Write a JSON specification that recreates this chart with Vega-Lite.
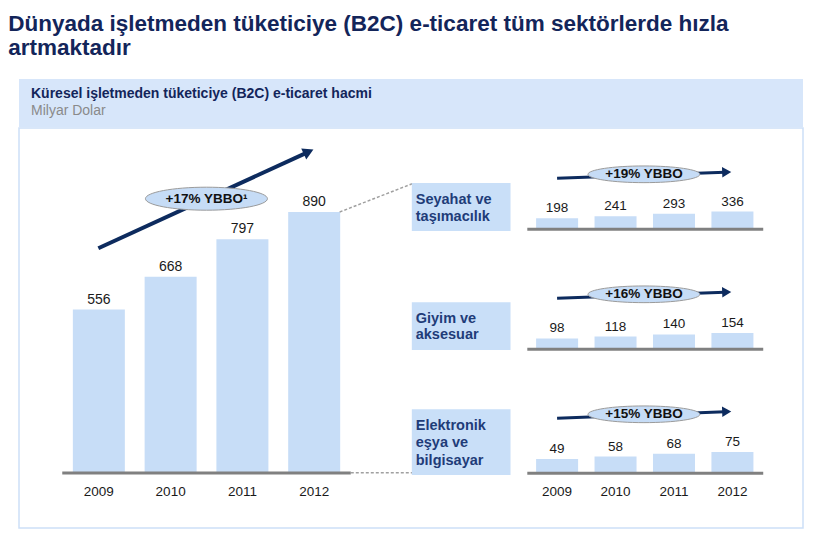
{
  "$schema": "https://vega.github.io/schema/vega-lite/v6.json",
  "padding": {"left": 8, "top": 12, "right": 21, "bottom": 5},
  "background": "white",
  "title": {
    "text": ["Dünyada işletmeden tüketiciye (B2C) e-ticaret tüm sektörlerde hızla", "artmaktadır"],
    "anchor": "start",
    "dx": -10,
    "font": "Liberation Sans",
    "fontSize": 22.5,
    "fontWeight": "bold",
    "color": "#13255a",
    "lineHeight": 24,
    "offset": 20
  },
  "datasets": {
    "main": [
      {"year": 2009, "value": 556},
      {"year": 2010, "value": 668},
      {"year": 2011, "value": 797},
      {"year": 2012, "value": 890}
    ],
    "seyahat": [
      {"year": 2009, "value": 198},
      {"year": 2010, "value": 241},
      {"year": 2011, "value": 293},
      {"year": 2012, "value": 336}
    ],
    "giyim": [
      {"year": 2009, "value": 98},
      {"year": 2010, "value": 118},
      {"year": 2011, "value": 140},
      {"year": 2012, "value": 154}
    ],
    "elektronik": [
      {"year": 2009, "value": 49},
      {"year": 2010, "value": 58},
      {"year": 2011, "value": 68},
      {"year": 2012, "value": 75}
    ]
  },
  "spacing": 0,
  "vconcat": [
    {
      "width": 784,
      "height": 48,
      "view": {"fill": "#d7e6fa", "stroke": null},
      "title": {
        "text": "Küresel işletmeden tüketiciye (B2C) e-ticaret hacmi",
        "subtitle": "Milyar Dolar",
        "anchor": "start",
        "dx": 12,
        "offset": -39,
        "font": "Liberation Sans",
        "fontSize": 14,
        "fontWeight": "bold",
        "color": "#13255a",
        "subtitleFont": "Liberation Sans",
        "subtitleFontSize": 14,
        "subtitleColor": "#8a8a8a",
        "subtitlePadding": 3
      },
      "data": {"values": [{}]},
      "mark": {"type": "text"},
      "encoding": {"text": {"value": ""}}
    },
    {
      "width": 784,
      "height": 400,
      "view": {"fill": "white", "stroke": "#cde0f8", "strokeWidth": 1.5},
      "resolve": {"scale": {"x": "independent", "y": "independent"}},
      "layer": [
        {
          "layer": [
            {
              "data": {"name": "main"},
              "mark": {"type": "bar", "width": 52, "orient": "vertical", "color": "#c7ddf7"},
              "encoding": {
                "x": {"field": "year", "type": "quantitative", "scale": {"domain": [2007.957, 2018.741], "nice": false, "zero": false}, "axis": null},
                "y": {"field": "value", "type": "quantitative", "scale": {"domain": [-191.7, 1177.5], "nice": false, "zero": false}, "axis": null}
              }
            },
            {
              "data": {"name": "main"},
              "mark": {"type": "text", "dy": -6, "baseline": "alphabetic", "fontSize": 14, "font": "Liberation Sans", "color": "#1a1a1a"},
              "encoding": {
                "x": {"field": "year", "type": "quantitative", "scale": {"domain": [2007.957, 2018.741], "nice": false, "zero": false}, "axis": null},
                "y": {"field": "value", "type": "quantitative", "scale": {"domain": [-191.7, 1177.5], "nice": false, "zero": false}, "axis": null},
                "text": {"field": "value", "type": "quantitative"}
              }
            },
            {
              "data": {"name": "main"},
              "mark": {"type": "text", "baseline": "middle", "fontSize": 13.5, "font": "Liberation Sans", "color": "#1a1a1a"},
              "encoding": {
                "x": {"field": "year", "type": "quantitative", "scale": {"domain": [2007.957, 2018.741], "nice": false, "zero": false}, "axis": null},
                "y": {"datum": -67.4, "type": "quantitative", "scale": {"domain": [-191.7, 1177.5], "nice": false, "zero": false}, "axis": null},
                "text": {"field": "year", "type": "quantitative", "format": "d"}
              }
            },
            {
              "data": {"values": [{}]},
              "mark": {"type": "rule", "color": "#808080", "strokeWidth": 3},
              "encoding": {
                "x": {"datum": 2008.49, "type": "quantitative", "scale": {"domain": [2007.957, 2018.741], "nice": false, "zero": false}, "axis": null},
                "x2": {"datum": 2012.51},
                "y": {"datum": -3.4, "type": "quantitative", "scale": {"domain": [-191.7, 1177.5], "nice": false, "zero": false}, "axis": null}
              }
            },
            {
              "data": {"values": [{}]},
              "mark": {"type": "rule", "color": "#a0a0a0", "strokeWidth": 1.5, "strokeDash": [3, 2]},
              "encoding": {
                "x": {"datum": 2012.51, "type": "quantitative", "scale": {"domain": [2007.957, 2018.741], "nice": false, "zero": false}, "axis": null},
                "x2": {"datum": 2013.418},
                "y": {"datum": -2.4, "type": "quantitative", "scale": {"domain": [-191.7, 1177.5], "nice": false, "zero": false}, "axis": null}
              }
            },
            {
              "data": {"values": [{}]},
              "mark": {"type": "rule", "color": "#a0a0a0", "strokeWidth": 1.5, "strokeDash": [3, 2]},
              "encoding": {
                "x": {"datum": 2012.355, "type": "quantitative", "scale": {"domain": [2007.957, 2018.741], "nice": false, "zero": false}, "axis": null},
                "x2": {"datum": 2013.39},
                "y": {"datum": 890, "type": "quantitative", "scale": {"domain": [-191.7, 1177.5], "nice": false, "zero": false}, "axis": null},
                "y2": {"datum": 989}
              }
            },
            {
              "data": {"values": [{}]},
              "mark": {"type": "rule", "color": "#0d2b5e", "strokeWidth": 4},
              "encoding": {
                "x": {"datum": 2008.993, "type": "quantitative", "scale": {"domain": [2007.957, 2018.741], "nice": false, "zero": false}, "axis": null},
                "x2": {"datum": 2011.922},
                "y": {"datum": 765.7, "type": "quantitative", "scale": {"domain": [-191.7, 1177.5], "nice": false, "zero": false}, "axis": null},
                "y2": {"datum": 1096}
              }
            },
            {
              "data": {"values": [{}]},
              "mark": {"type": "point", "shape": "triangle-up", "size": 150, "filled": true, "opacity": 1, "color": "#0d2b5e", "angle": 65.6},
              "encoding": {
                "x": {"datum": 2011.922, "type": "quantitative", "scale": {"domain": [2007.957, 2018.741], "nice": false, "zero": false}, "axis": null},
                "y": {"datum": 1096, "type": "quantitative", "scale": {"domain": [-191.7, 1177.5], "nice": false, "zero": false}, "axis": null}
              }
            },
            {
              "data": {"values": [{}]},
              "mark": {"type": "point", "shape": "M-1,0C-1,-0.1041,-0.5523,-0.1885,0,-0.1885C0.5523,-0.1885,1,-0.1041,1,0C1,0.1041,0.5523,0.1885,0,0.1885C-0.5523,0.1885,-1,0.1041,-1,0Z", "size": 14884, "filled": true, "opacity": 1, "fill": "#c6dcf6", "stroke": "#9b9b9b", "strokeWidth": 1},
              "encoding": {
                "x": {"datum": 2010.499, "type": "quantitative", "scale": {"domain": [2007.957, 2018.741], "nice": false, "zero": false}, "axis": null},
                "y": {"datum": 935.5, "type": "quantitative", "scale": {"domain": [-191.7, 1177.5], "nice": false, "zero": false}, "axis": null}
              }
            },
            {
              "data": {"values": [{}]},
              "mark": {"type": "text", "baseline": "middle", "fontSize": 13.5, "fontWeight": "bold", "font": "Liberation Sans", "color": "#111111"},
              "encoding": {
                "x": {"datum": 2010.499, "type": "quantitative", "scale": {"domain": [2007.957, 2018.741], "nice": false, "zero": false}, "axis": null},
                "y": {"datum": 935.5, "type": "quantitative", "scale": {"domain": [-191.7, 1177.5], "nice": false, "zero": false}, "axis": null},
                "text": {"value": "+17% YBBO¹"}
              }
            }
          ]
        },
        {
          "layer": [
            {
              "data": {"values": [{}]},
              "mark": {"type": "rect", "color": "#c9dff8"},
              "encoding": {
                "x": {"datum": 2006.514, "type": "quantitative", "scale": {"domain": [1999.878, 2013.122], "nice": false, "zero": false}, "axis": null},
                "x2": {"datum": 2008.203},
                "y": {"datum": 922.5, "type": "quantitative", "scale": {"domain": [-6150, 2050], "nice": false, "zero": false}, "axis": null},
                "y2": {"datum": -61.5}
              }
            },
            {
              "data": {"values": [{}]},
              "mark": {"type": "text", "align": "left", "baseline": "middle", "fontSize": 14.5, "fontWeight": "bold", "font": "Liberation Sans", "color": "#1f3c78", "lineHeight": 16.7},
              "encoding": {
                "x": {"datum": 2006.581, "type": "quantitative", "scale": {"domain": [1999.878, 2013.122], "nice": false, "zero": false}, "axis": null},
                "y": {"datum": 574, "type": "quantitative", "scale": {"domain": [-6150, 2050], "nice": false, "zero": false}, "axis": null},
                "text": {"value": ["Seyahat ve", "taşımacılık"]}
              }
            },
            {
              "data": {"name": "seyahat"},
              "mark": {"type": "bar", "width": 42, "orient": "vertical", "color": "#c7ddf7"},
              "encoding": {
                "x": {"field": "year", "type": "quantitative", "scale": {"domain": [1999.878, 2013.122], "nice": false, "zero": false}, "axis": null},
                "y": {"field": "value", "type": "quantitative", "scale": {"domain": [-6150, 2050], "nice": false, "zero": false}, "axis": null}
              }
            },
            {
              "data": {"name": "seyahat"},
              "mark": {"type": "text", "dy": -6, "baseline": "alphabetic", "fontSize": 13.5, "font": "Liberation Sans", "color": "#1a1a1a"},
              "encoding": {
                "x": {"field": "year", "type": "quantitative", "scale": {"domain": [1999.878, 2013.122], "nice": false, "zero": false}, "axis": null},
                "y": {"field": "value", "type": "quantitative", "scale": {"domain": [-6150, 2050], "nice": false, "zero": false}, "axis": null},
                "text": {"field": "value", "type": "quantitative"}
              }
            },
            {
              "data": {"values": [{}]},
              "mark": {"type": "rule", "color": "#808080", "strokeWidth": 3},
              "encoding": {
                "x": {"datum": 2008.49, "type": "quantitative", "scale": {"domain": [1999.878, 2013.122], "nice": false, "zero": false}, "axis": null},
                "x2": {"datum": 2012.527},
                "y": {"datum": -26.7, "type": "quantitative", "scale": {"domain": [-6150, 2050], "nice": false, "zero": false}, "axis": null}
              }
            },
            {
              "data": {"values": [{}]},
              "mark": {"type": "rule", "color": "#0d2b5e", "strokeWidth": 3},
              "encoding": {
                "x": {"datum": 2009, "type": "quantitative", "scale": {"domain": [1999.878, 2013.122], "nice": false, "zero": false}, "axis": null},
                "x2": {"datum": 2011.872},
                "y": {"datum": 1018.9, "type": "quantitative", "scale": {"domain": [-6150, 2050], "nice": false, "zero": false}, "axis": null},
                "y2": {"datum": 1141.9}
              }
            },
            {
              "data": {"values": [{}]},
              "mark": {"type": "point", "shape": "triangle-up", "size": 110, "filled": true, "opacity": 1, "color": "#0d2b5e", "angle": 88},
              "encoding": {
                "x": {"datum": 2011.902, "type": "quantitative", "scale": {"domain": [1999.878, 2013.122], "nice": false, "zero": false}, "axis": null},
                "y": {"datum": 1143.9, "type": "quantitative", "scale": {"domain": [-6150, 2050], "nice": false, "zero": false}, "axis": null}
              }
            },
            {
              "data": {"values": [{}]},
              "mark": {"type": "point", "shape": "M-1,0C-1,-0.0823,-0.5523,-0.149,0,-0.149C0.5523,-0.149,1,-0.0823,1,0C1,0.0823,0.5523,0.149,0,0.149C-0.5523,0.149,-1,0.0823,-1,0Z", "size": 12544, "filled": true, "opacity": 1, "fill": "#c6dcf6", "stroke": "#9b9b9b", "strokeWidth": 1},
              "encoding": {
                "x": {"datum": 2010.486, "type": "quantitative", "scale": {"domain": [1999.878, 2013.122], "nice": false, "zero": false}, "axis": null},
                "y": {"datum": 1100.9, "type": "quantitative", "scale": {"domain": [-6150, 2050], "nice": false, "zero": false}, "axis": null}
              }
            },
            {
              "data": {"values": [{}]},
              "mark": {"type": "text", "baseline": "middle", "fontSize": 13.5, "fontWeight": "bold", "font": "Liberation Sans", "color": "#111111"},
              "encoding": {
                "x": {"datum": 2010.486, "type": "quantitative", "scale": {"domain": [1999.878, 2013.122], "nice": false, "zero": false}, "axis": null},
                "y": {"datum": 1100.9, "type": "quantitative", "scale": {"domain": [-6150, 2050], "nice": false, "zero": false}, "axis": null},
                "text": {"value": "+19% YBBO"}
              }
            }
          ]
        },
        {
          "layer": [
            {
              "data": {"values": [{}]},
              "mark": {"type": "rect", "color": "#c9dff8"},
              "encoding": {
                "x": {"datum": 2006.514, "type": "quantitative", "scale": {"domain": [1999.878, 2013.122], "nice": false, "zero": false}, "axis": null},
                "x2": {"datum": 2008.203},
                "y": {"datum": 470.7, "type": "quantitative", "scale": {"domain": [-1854, 2266], "nice": false, "zero": false}, "axis": null},
                "y2": {"datum": -20.6}
              }
            },
            {
              "data": {"values": [{}]},
              "mark": {"type": "text", "align": "left", "baseline": "middle", "fontSize": 14.5, "fontWeight": "bold", "font": "Liberation Sans", "color": "#1f3c78", "lineHeight": 16},
              "encoding": {
                "x": {"datum": 2006.581, "type": "quantitative", "scale": {"domain": [1999.878, 2013.122], "nice": false, "zero": false}, "axis": null},
                "y": {"datum": 295.7, "type": "quantitative", "scale": {"domain": [-1854, 2266], "nice": false, "zero": false}, "axis": null},
                "text": {"value": ["Giyim ve", "aksesuar"]}
              }
            },
            {
              "data": {"name": "giyim"},
              "mark": {"type": "bar", "width": 42, "orient": "vertical", "color": "#c7ddf7"},
              "encoding": {
                "x": {"field": "year", "type": "quantitative", "scale": {"domain": [1999.878, 2013.122], "nice": false, "zero": false}, "axis": null},
                "y": {"field": "value", "type": "quantitative", "scale": {"domain": [-1854, 2266], "nice": false, "zero": false}, "axis": null}
              }
            },
            {
              "data": {"name": "giyim"},
              "mark": {"type": "text", "dy": -6, "baseline": "alphabetic", "fontSize": 13.5, "font": "Liberation Sans", "color": "#1a1a1a"},
              "encoding": {
                "x": {"field": "year", "type": "quantitative", "scale": {"domain": [1999.878, 2013.122], "nice": false, "zero": false}, "axis": null},
                "y": {"field": "value", "type": "quantitative", "scale": {"domain": [-1854, 2266], "nice": false, "zero": false}, "axis": null},
                "text": {"field": "value", "type": "quantitative"}
              }
            },
            {
              "data": {"values": [{}]},
              "mark": {"type": "rule", "color": "#808080", "strokeWidth": 3},
              "encoding": {
                "x": {"datum": 2008.49, "type": "quantitative", "scale": {"domain": [1999.878, 2013.122], "nice": false, "zero": false}, "axis": null},
                "x2": {"datum": 2012.527},
                "y": {"datum": -13.4, "type": "quantitative", "scale": {"domain": [-1854, 2266], "nice": false, "zero": false}, "axis": null}
              }
            },
            {
              "data": {"values": [{}]},
              "mark": {"type": "rule", "color": "#0d2b5e", "strokeWidth": 3},
              "encoding": {
                "x": {"datum": 2009, "type": "quantitative", "scale": {"domain": [1999.878, 2013.122], "nice": false, "zero": false}, "axis": null},
                "x2": {"datum": 2011.872},
                "y": {"datum": 511.9, "type": "quantitative", "scale": {"domain": [-1854, 2266], "nice": false, "zero": false}, "axis": null},
                "y2": {"datum": 573.7}
              }
            },
            {
              "data": {"values": [{}]},
              "mark": {"type": "point", "shape": "triangle-up", "size": 110, "filled": true, "opacity": 1, "color": "#0d2b5e", "angle": 88},
              "encoding": {
                "x": {"datum": 2011.902, "type": "quantitative", "scale": {"domain": [1999.878, 2013.122], "nice": false, "zero": false}, "axis": null},
                "y": {"datum": 574.7, "type": "quantitative", "scale": {"domain": [-1854, 2266], "nice": false, "zero": false}, "axis": null}
              }
            },
            {
              "data": {"values": [{}]},
              "mark": {"type": "point", "shape": "M-1,0C-1,-0.0823,-0.5523,-0.149,0,-0.149C0.5523,-0.149,1,-0.0823,1,0C1,0.0823,0.5523,0.149,0,0.149C-0.5523,0.149,-1,0.0823,-1,0Z", "size": 12544, "filled": true, "opacity": 1, "fill": "#c6dcf6", "stroke": "#9b9b9b", "strokeWidth": 1},
              "encoding": {
                "x": {"datum": 2010.486, "type": "quantitative", "scale": {"domain": [1999.878, 2013.122], "nice": false, "zero": false}, "axis": null},
                "y": {"datum": 553.1, "type": "quantitative", "scale": {"domain": [-1854, 2266], "nice": false, "zero": false}, "axis": null}
              }
            },
            {
              "data": {"values": [{}]},
              "mark": {"type": "text", "baseline": "middle", "fontSize": 13.5, "fontWeight": "bold", "font": "Liberation Sans", "color": "#111111"},
              "encoding": {
                "x": {"datum": 2010.486, "type": "quantitative", "scale": {"domain": [1999.878, 2013.122], "nice": false, "zero": false}, "axis": null},
                "y": {"datum": 553.1, "type": "quantitative", "scale": {"domain": [-1854, 2266], "nice": false, "zero": false}, "axis": null},
                "text": {"value": "+16% YBBO"}
              }
            }
          ]
        },
        {
          "layer": [
            {
              "data": {"values": [{}]},
              "mark": {"type": "rect", "color": "#c9dff8"},
              "encoding": {
                "x": {"datum": 2006.514, "type": "quantitative", "scale": {"domain": [1999.878, 2013.122], "nice": false, "zero": false}, "axis": null},
                "x2": {"datum": 2008.203},
                "y": {"datum": 235.1, "type": "quantitative", "scale": {"domain": [-210, 1290], "nice": false, "zero": false}, "axis": null},
                "y2": {"datum": -11.25}
              }
            },
            {
              "data": {"values": [{}]},
              "mark": {"type": "text", "align": "left", "baseline": "middle", "fontSize": 14.5, "fontWeight": "bold", "font": "Liberation Sans", "color": "#1f3c78", "lineHeight": 17.5},
              "encoding": {
                "x": {"datum": 2006.581, "type": "quantitative", "scale": {"domain": [1999.878, 2013.122], "nice": false, "zero": false}, "axis": null},
                "y": {"datum": 173.6, "type": "quantitative", "scale": {"domain": [-210, 1290], "nice": false, "zero": false}, "axis": null},
                "text": {"value": ["Elektronik", "eşya ve", "bilgisayar"]}
              }
            },
            {
              "data": {"name": "elektronik"},
              "mark": {"type": "bar", "width": 42, "orient": "vertical", "color": "#c7ddf7"},
              "encoding": {
                "x": {"field": "year", "type": "quantitative", "scale": {"domain": [1999.878, 2013.122], "nice": false, "zero": false}, "axis": null},
                "y": {"field": "value", "type": "quantitative", "scale": {"domain": [-210, 1290], "nice": false, "zero": false}, "axis": null}
              }
            },
            {
              "data": {"name": "elektronik"},
              "mark": {"type": "text", "dy": -6, "baseline": "alphabetic", "fontSize": 13.5, "font": "Liberation Sans", "color": "#1a1a1a"},
              "encoding": {
                "x": {"field": "year", "type": "quantitative", "scale": {"domain": [1999.878, 2013.122], "nice": false, "zero": false}, "axis": null},
                "y": {"field": "value", "type": "quantitative", "scale": {"domain": [-210, 1290], "nice": false, "zero": false}, "axis": null},
                "text": {"field": "value", "type": "quantitative"}
              }
            },
            {
              "data": {"name": "elektronik"},
              "mark": {"type": "text", "baseline": "middle", "fontSize": 13.5, "font": "Liberation Sans", "color": "#1a1a1a"},
              "encoding": {
                "x": {"field": "year", "type": "quantitative", "scale": {"domain": [1999.878, 2013.122], "nice": false, "zero": false}, "axis": null},
                "y": {"datum": -73.9, "type": "quantitative", "scale": {"domain": [-210, 1290], "nice": false, "zero": false}, "axis": null},
                "text": {"field": "year", "type": "quantitative", "format": "d"}
              }
            },
            {
              "data": {"values": [{}]},
              "mark": {"type": "rule", "color": "#808080", "strokeWidth": 3},
              "encoding": {
                "x": {"datum": 2008.49, "type": "quantitative", "scale": {"domain": [1999.878, 2013.122], "nice": false, "zero": false}, "axis": null},
                "x2": {"datum": 2012.527},
                "y": {"datum": -4.9, "type": "quantitative", "scale": {"domain": [-210, 1290], "nice": false, "zero": false}, "axis": null}
              }
            },
            {
              "data": {"values": [{}]},
              "mark": {"type": "rule", "color": "#0d2b5e", "strokeWidth": 3},
              "encoding": {
                "x": {"datum": 2009, "type": "quantitative", "scale": {"domain": [1999.878, 2013.122], "nice": false, "zero": false}, "axis": null},
                "x2": {"datum": 2011.872},
                "y": {"datum": 201.4, "type": "quantitative", "scale": {"domain": [-210, 1290], "nice": false, "zero": false}, "axis": null},
                "y2": {"datum": 225.75}
              }
            },
            {
              "data": {"values": [{}]},
              "mark": {"type": "point", "shape": "triangle-up", "size": 110, "filled": true, "opacity": 1, "color": "#0d2b5e", "angle": 88},
              "encoding": {
                "x": {"datum": 2011.902, "type": "quantitative", "scale": {"domain": [1999.878, 2013.122], "nice": false, "zero": false}, "axis": null},
                "y": {"datum": 226.5, "type": "quantitative", "scale": {"domain": [-210, 1290], "nice": false, "zero": false}, "axis": null}
              }
            },
            {
              "data": {"values": [{}]},
              "mark": {"type": "point", "shape": "M-1,0C-1,-0.0823,-0.5523,-0.149,0,-0.149C0.5523,-0.149,1,-0.0823,1,0C1,0.0823,0.5523,0.149,0,0.149C-0.5523,0.149,-1,0.0823,-1,0Z", "size": 12544, "filled": true, "opacity": 1, "fill": "#c6dcf6", "stroke": "#9b9b9b", "strokeWidth": 1},
              "encoding": {
                "x": {"datum": 2010.486, "type": "quantitative", "scale": {"domain": [1999.878, 2013.122], "nice": false, "zero": false}, "axis": null},
                "y": {"datum": 216.4, "type": "quantitative", "scale": {"domain": [-210, 1290], "nice": false, "zero": false}, "axis": null}
              }
            },
            {
              "data": {"values": [{}]},
              "mark": {"type": "text", "baseline": "middle", "fontSize": 13.5, "fontWeight": "bold", "font": "Liberation Sans", "color": "#111111"},
              "encoding": {
                "x": {"datum": 2010.486, "type": "quantitative", "scale": {"domain": [1999.878, 2013.122], "nice": false, "zero": false}, "axis": null},
                "y": {"datum": 216.4, "type": "quantitative", "scale": {"domain": [-210, 1290], "nice": false, "zero": false}, "axis": null},
                "text": {"value": "+15% YBBO"}
              }
            }
          ]
        }
      ]
    }
  ],
  "config": {
    "view": {"stroke": null},
    "font": "Liberation Sans"
  }
}
